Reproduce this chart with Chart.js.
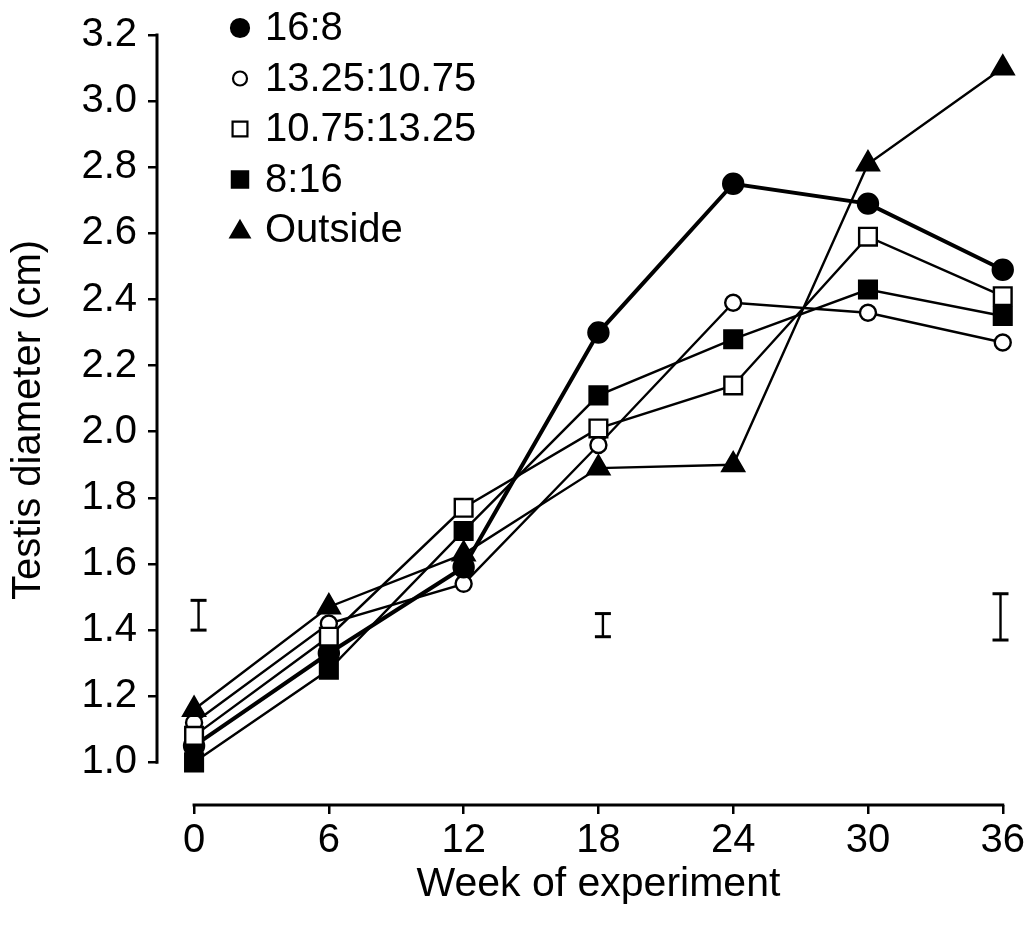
<!DOCTYPE html>
<html><head><meta charset="utf-8">
<script src="https://cdn.jsdelivr.net/npm/chart.js@4.4.1/dist/chart.umd.min.js"></script>
<style>html,body{margin:0;padding:0;background:#fff}#wrap{width:1028px;height:930px;position:relative}</style>
</head><body><div id="wrap"><canvas id="c"></canvas></div>
<script>
const weeks = [0, 6, 12, 18, 24, 30, 36];
const xTicks = [0, 6, 12, 18, 24, 30, 36];
const yTicks = [1.0, 1.2, 1.4, 1.6, 1.8, 2.0, 2.2, 2.4, 2.6, 2.8, 3.0, 3.2];
const labels = ['16:8', '13.25:10.75', '10.75:13.25', '8:16', 'Outside'];
const s16_8 = [1.05, 1.33, 1.59, 2.30, 2.75, 2.69, 2.49];
const s13_25 = [1.12, 1.42, 1.54, 1.96, 2.39, 2.36, 2.27];
const s10_75 = [1.08, 1.38, 1.77, 2.01, 2.14, 2.59, 2.41];
const s8_16 = [1.00, 1.28, 1.70, 2.11, 2.28, 2.43, 2.35];
const sOutside = [1.16, 1.47, 1.63, 1.89, 1.90, 2.81, 3.10];
const errWeeks = [0.2, 18.2, 35.9];
const errLow = [1.40, 1.38, 1.37];
const errHigh = [1.49, 1.45, 1.51];
const xTitle = 'Week of experiment';
const yTitle = 'Testis diameter (cm)';

const FONT = 'Liberation Sans, Arial, Helvetica, sans-serif';
const pts = arr => arr.map((v, i) => ({x: weeks[i], y: v}));

const styles = [
  {pointStyle: 'circle', radius: 10, fill: '#000', width: 4},
  {pointStyle: 'circle', radius: 8, fill: '#fff', width: 2.4},
  {pointStyle: 'rect', radius: 12.5, fill: '#fff', width: 2.4},
  {pointStyle: 'rect', radius: 12.5, fill: '#000', width: 2.4},
  {pointStyle: 'triangle', radius: 12.5, fill: '#000', width: 2.4}
];
const series = [s16_8, s13_25, s10_75, s8_16, sOutside];

const datasets = [];
errWeeks.forEach((w, i) => {
  datasets.push({
    label: 'err' + i,
    data: [{x: w, y: errLow[i]}, {x: w, y: errHigh[i]}],
    borderColor: '#000', borderWidth: 2.4,
    pointStyle: 'line', pointRadius: 8, pointBorderWidth: 3, pointBorderColor: '#000',
    clip: false
  });
});
[4, 3, 2, 0, 1].forEach(k => {
  const st = styles[k];
  datasets.push({
    label: labels[k],
    data: pts(series[k]),
    borderColor: '#000', borderWidth: st.width,
    pointStyle: st.pointStyle, pointRadius: st.radius, pointHoverRadius: st.radius,
    pointBackgroundColor: st.fill, pointBorderColor: '#000', pointBorderWidth: 2.4,
    clip: false
  });
});

const axisPlugin = {
  id: 'axisLines',
  beforeDatasetsDraw(chart) {
    const {ctx, chartArea, scales: {x, y}} = chart;
    ctx.save();
    ctx.strokeStyle = '#000';
    ctx.lineWidth = 3;
    ctx.lineCap = 'square';
    ctx.beginPath();
    ctx.moveTo(chartArea.left, y.getPixelForValue(yTicks[yTicks.length - 1]));
    ctx.lineTo(chartArea.left, y.getPixelForValue(yTicks[0]));
    const x0 = x.getPixelForValue(xTicks[0]), x1 = x.getPixelForValue(xTicks[xTicks.length - 1]);
    ctx.moveTo(x0, chartArea.bottom);
    ctx.lineTo(x1, chartArea.bottom);
    ctx.stroke();
    // x-axis title centred under the axis line
    ctx.fillStyle = '#000';
    ctx.font = '41px ' + FONT;
    ctx.textAlign = 'center';
    ctx.textBaseline = 'middle';
    ctx.fillText(xTitle, (x0 + x1) / 2, 885);
    ctx.restore();
  }
};

const legendPlugin = {
  id: 'inLegend',
  afterDraw(chart) {
    const {ctx} = chart;
    ctx.save();
    const mx = 240, tx = 265, y0 = 28, dy = 50.5;
    const lstyles = [
      {pointStyle: 'circle', radius: 9, fill: '#000'},
      {pointStyle: 'circle', radius: 7, fill: '#fff'},
      {pointStyle: 'rect', radius: 10.5, fill: '#fff'},
      {pointStyle: 'rect', radius: 11.5, fill: '#000'},
      {pointStyle: 'triangle', radius: 11, fill: '#000'}
    ];
    labels.forEach((lab, i) => {
      const yy = y0 + i * dy;
      const st = lstyles[i];
      ctx.fillStyle = st.fill;
      ctx.strokeStyle = '#000';
      ctx.lineWidth = 2.2;
      Chart.helpers.drawPoint(ctx, {pointStyle: st.pointStyle, radius: st.radius, rotation: 0, borderWidth: 2.2}, mx, yy + (st.pointStyle === 'triangle' ? 2 : 0));
      ctx.fillStyle = '#000';
      ctx.font = '40px ' + FONT;
      ctx.textAlign = 'left';
      ctx.textBaseline = 'middle';
      ctx.fillText(lab, tx, yy + 1);
    });
    ctx.restore();
  }
};

new Chart(document.getElementById('c'), {
  type: 'line',
  data: {datasets},
  options: {
    responsive: true, maintainAspectRatio: false, animation: false,
    devicePixelRatio: 1,
    layout: {padding: {left: 0, top: 28, right: 25, bottom: 0}},
    plugins: {legend: {display: false}, tooltip: {enabled: false}},
    elements: {line: {tension: 0}},
    scales: {
      x: {
        type: 'linear', min: -1.65, max: 36,
        afterBuildTicks: s => { s.ticks = xTicks.map(v => ({value: v})); },
        afterFit: s => { s.height = 125; },
        grid: {display: true, drawOnChartArea: false, drawTicks: true, tickLength: 9, lineWidth: 2.5, color: '#000'},
        border: {display: false},
        ticks: {color: '#000', font: {family: FONT, size: 40}, padding: 3, maxRotation: 0, autoSkip: false, callback: v => String(v)},
        title: {display: false}
      },
      y: {
        type: 'linear', min: 0.871, max: 3.2,
        afterBuildTicks: s => { s.ticks = yTicks.map(v => ({value: v})); },
        afterFit: s => { s.width = 157; },
        grid: {display: true, drawOnChartArea: false, drawTicks: true, tickLength: 9, lineWidth: 2.5, color: '#000'},
        border: {display: false},
        ticks: {color: '#000', font: {family: FONT, size: 40}, padding: 11, autoSkip: false, callback: v => v.toFixed(1)},
        title: {display: true, text: yTitle, color: '#000', font: {family: FONT, size: 40}, padding: {top: 5, bottom: 0}}
      }
    }
  },
  plugins: [axisPlugin, legendPlugin]
});
</script></body></html>
